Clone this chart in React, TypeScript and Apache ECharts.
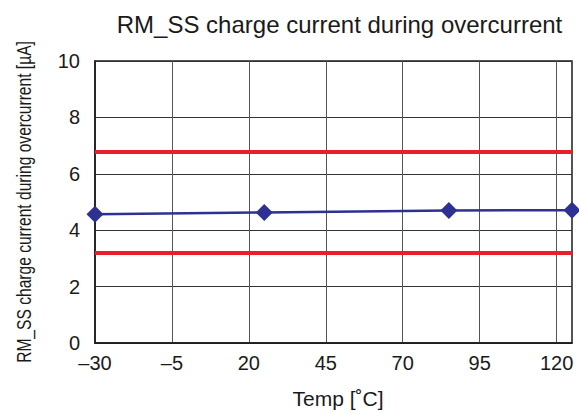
import React, { useEffect, useRef } from "react";
import * as echarts from "echarts";

const temps = [-30, 25, 85, 125];
const current = [4.57, 4.63, 4.7, 4.71];
const upperLimit = 6.77;
const lowerLimit = 3.19;
const xMin = -30;
const xMax = 125;
const xStep = 25;
const yMin = 0;
const yMax = 10;
const yStep = 2;

const titleText = "RM_SS charge current during overcurrent";
const yName = "RM_SS charge current during overcurrent [µA]";
const xName = "Temp [˚C]";

const W = 579;
const H = 414;
const gridL = 95;
const gridR = 7;
const gridT = 61;
const gridB = 71;

export default function App() {
  const ref = useRef<HTMLDivElement>(null);
  useEffect(() => {
    if (!ref.current) return;
    const chart = echarts.init(ref.current, null, { renderer: "svg" });
    const font = "'Liberation Sans', Arial, Helvetica, sans-serif";
    const plotCy = gridT + (H - gridT - gridB) / 2;
    chart.setOption({
      animation: false,
      backgroundColor: "#ffffff",
      grid: {
        left: gridL,
        right: gridR,
        top: gridT,
        bottom: gridB,
        show: true,
        borderColor: "#1a1a1a",
        borderWidth: 1.5,
      },
      graphic: [
        {
          type: "text",
          x: 339.5,
          y: 24,
          style: {
            text: titleText,
            font: `24px ${font}`,
            fill: "#1a1a1a",
            align: "center",
            verticalAlign: "middle",
          },
        },
        {
          type: "text",
          x: 338,
          y: 398,
          style: {
            text: xName,
            font: `21px ${font}`,
            fill: "#1a1a1a",
            align: "center",
            verticalAlign: "middle",
          },
        },
        {
          type: "text",
          x: 24,
          y: plotCy,
          rotation: Math.PI / 2,
          scaleX: 0.78,
          style: {
            text: yName,
            font: `20px ${font}`,
            fill: "#1a1a1a",
            align: "center",
            verticalAlign: "middle",
          },
        },
      ],
      xAxis: {
        type: "value",
        min: xMin,
        max: xMax,
        interval: xStep,
        axisLine: { show: true, onZero: false, lineStyle: { color: "#1a1a1a", width: 1.5 } },
        axisTick: { show: false },
        splitLine: { show: true, lineStyle: { color: "#555", width: 1 } },
        axisLabel: {
          color: "#1a1a1a",
          fontSize: 20,
          fontFamily: font,
          margin: 10,
          showMaxLabel: false,
          formatter: (v: number) => (v === xMax ? "" : String(v).replace("-", "–")),
        },
      },
      yAxis: {
        type: "value",
        min: yMin,
        max: yMax,
        interval: yStep,
        axisLine: { show: true, onZero: false, lineStyle: { color: "#1a1a1a", width: 1.5 } },
        axisTick: { show: false },
        splitLine: { show: true, lineStyle: { color: "#333", width: 1 } },
        axisLabel: {
          color: "#1a1a1a",
          fontSize: 20,
          fontFamily: font,
          margin: 15,
        },
      },
      series: [
        {
          type: "line",
          data: [
            [xMin, upperLimit],
            [xMax, upperLimit],
          ],
          symbol: "none",
          lineStyle: { color: "#e8202a", width: 4 },
          z: 3,
        },
        {
          type: "line",
          data: [
            [xMin, lowerLimit],
            [xMax, lowerLimit],
          ],
          symbol: "none",
          lineStyle: { color: "#e8202a", width: 4 },
          z: 3,
        },
        {
          type: "line",
          data: temps.map((t, i) => [t, current[i]]),
          symbol: "diamond",
          symbolSize: 17,
          itemStyle: { color: "#2e3192" },
          lineStyle: { color: "#2e3192", width: 2.5 },
          z: 4,
        },
      ],
    });
    return () => chart.dispose();
  }, []);
  return (
    <div
      ref={ref}
      style={{ position: "fixed", left: 0, top: 0, width: W, height: H }}
    />
  );
}
